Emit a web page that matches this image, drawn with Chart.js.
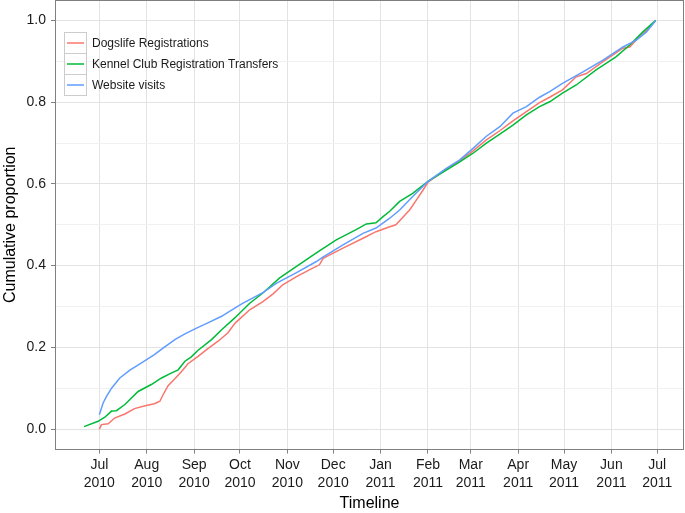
<!DOCTYPE html>
<html>
<head>
<meta charset="utf-8">
<script src="https://cdn.jsdelivr.net/npm/chart.js@4.4.1/dist/chart.umd.min.js"></script>
<style>
  html, body { margin: 0; padding: 0; background: #ffffff; }
  #wrap { width: 685px; height: 513px; position: relative; }
</style>
</head>
<body>
<div id="wrap"><canvas id="c" width="685" height="513"></canvas></div>
<script>
// x values: days since 2010-07-01
const seriesNames = ['Dogslife Registrations', 'Kennel Club Registration Transfers', 'Website visits'];
const seriesColors = ['#F8766D', '#00BA38', '#619CFF'];

const dogslifeDays = [0, 1.4, 5.8, 10, 16.7, 23, 30, 36, 39.6, 41.7, 45, 49.4, 53.8, 58, 64.6, 71, 77.7, 84, 89, 98.4, 107, 113.7, 120, 129, 137.7, 144, 146.4, 159.4, 172.5, 181, 190, 194, 201, 203, 207.5, 211.8, 215, 227, 235.8, 244.5, 253, 262, 270.6, 279.4, 288, 294.6, 303, 312, 318.6, 329.5, 342.6, 347, 351.3, 358, 364];
const dogslifeValues = [0.0, 0.011, 0.013, 0.027, 0.037, 0.05, 0.057, 0.062, 0.068, 0.084, 0.106, 0.123, 0.141, 0.16, 0.178, 0.197, 0.215, 0.235, 0.26, 0.292, 0.312, 0.331, 0.353, 0.373, 0.39, 0.402, 0.418, 0.443, 0.467, 0.483, 0.495, 0.5, 0.528, 0.536, 0.561, 0.585, 0.604, 0.636, 0.657, 0.681, 0.707, 0.73, 0.754, 0.777, 0.799, 0.812, 0.83, 0.862, 0.87, 0.899, 0.932, 0.935, 0.952, 0.976, 1.0];

const kennelDays = [-10, -0.8, 3.6, 8, 11.2, 16.7, 25.4, 34, 40.7, 47, 51.6, 56, 60, 64.6, 73.4, 80, 88.6, 98.4, 107, 118, 129, 142, 155, 168, 174.7, 181, 185.6, 190, 196.5, 205, 215, 227, 235.8, 244.5, 253, 262, 270.6, 279.4, 288, 294.6, 303, 312, 325, 338, 347, 355.6, 364];
const kennelValues = [0.006, 0.019, 0.029, 0.044, 0.045, 0.06, 0.092, 0.109, 0.125, 0.137, 0.145, 0.166, 0.176, 0.193, 0.219, 0.243, 0.272, 0.308, 0.333, 0.37, 0.398, 0.431, 0.463, 0.488, 0.502, 0.505, 0.52, 0.533, 0.557, 0.577, 0.606, 0.634, 0.654, 0.675, 0.699, 0.722, 0.744, 0.769, 0.789, 0.801, 0.822, 0.842, 0.879, 0.911, 0.94, 0.972, 1.0];

const websiteDays = [0, 2.5, 4.7, 8, 13.4, 20, 27.6, 36, 41.7, 49.4, 56, 63.6, 71, 80, 88.6, 94, 107, 116, 129, 142, 146, 159.4, 172.5, 181, 190, 196.5, 205, 215, 227, 235.8, 244.5, 253, 262, 270.6, 279.4, 288, 294.6, 303, 316.4, 329.5, 342.6, 351.3, 358, 364];
const websiteValues = [0.035, 0.064, 0.080, 0.10, 0.125, 0.144, 0.162, 0.182, 0.198, 0.219, 0.233, 0.247, 0.26, 0.276, 0.296, 0.308, 0.334, 0.357, 0.383, 0.41, 0.42, 0.451, 0.479, 0.492, 0.516, 0.536, 0.569, 0.606, 0.638, 0.659, 0.687, 0.716, 0.74, 0.773, 0.789, 0.812, 0.826, 0.846, 0.874, 0.903, 0.935, 0.952, 0.972, 1.0];

const monthTickDays = [0, 31, 62, 92, 123, 153, 184, 215, 243, 274, 304, 335, 365];
const monthTickMonths = ['Jul', 'Aug', 'Sep', 'Oct', 'Nov', 'Dec', 'Jan', 'Feb', 'Mar', 'Apr', 'May', 'Jun', 'Jul'];
const monthTickYears = ['2010', '2010', '2010', '2010', '2010', '2010', '2011', '2011', '2011', '2011', '2011', '2011', '2011'];

const yTickValues = [0, 0.1, 0.2, 0.3, 0.4, 0.5, 0.6, 0.7, 0.8, 0.9, 1.0];

const FONT = "'Liberation Sans', Arial, Helvetica, sans-serif";
const isMajorY = v => Math.round(v * 10) % 2 === 0;

function pts(xs, ys) { return xs.map((x, i) => ({ x: x, y: ys[i] })); }

const panelPlugin = {
  id: 'panel',
  afterDraw(chart) {
    const { ctx, chartArea: a } = chart;
    ctx.save();
    ctx.strokeStyle = '#7f7f7f';
    ctx.lineWidth = 1;
    ctx.strokeRect(Math.round(a.left) + 0.5, Math.round(a.top) + 0.5, Math.round(a.width) - 1, Math.round(a.height) - 1);
    // legend
    const kx = 64.5, ky = 32.5, kw = 22, kh = 21;
    ctx.font = '12px ' + FONT;
    ctx.textBaseline = 'middle';
    ctx.textAlign = 'left';
    seriesNames.forEach((name, i) => {
      const y = ky + i * kh;
      ctx.fillStyle = '#ffffff';
      ctx.fillRect(kx, y, kw, kh);
      ctx.strokeStyle = '#cccccc';
      ctx.lineWidth = 1;
      ctx.strokeRect(kx, y, kw, kh);
      ctx.strokeStyle = seriesColors[i];
      ctx.lineWidth = 1.5;
      ctx.beginPath();
      ctx.moveTo(kx + 2.5, y + kh / 2);
      ctx.lineTo(kx + kw - 2.5, y + kh / 2);
      ctx.stroke();
      ctx.fillStyle = '#1a1a1a';
      ctx.fillText(name, 92, y + kh / 2 + 0.5);
    });
    ctx.restore();
  }
};

new Chart(document.getElementById('c'), {
  type: 'line',
  data: {
    datasets: [
      { label: seriesNames[0], data: pts(dogslifeDays, dogslifeValues), borderColor: seriesColors[0], order: 2 },
      { label: seriesNames[1], data: pts(kennelDays, kennelValues), borderColor: seriesColors[1], order: 1 },
      { label: seriesNames[2], data: pts(websiteDays, websiteValues), borderColor: seriesColors[2], order: 0 }
    ]
  },
  options: {
    responsive: false,
    animation: false,
    devicePixelRatio: 1,
    parsing: true,
    elements: { point: { radius: 0 }, line: { borderWidth: 1.5, tension: 0, fill: false } },
    layout: { padding: { top: 0, right: 1, left: 0, bottom: 0 } },
    plugins: { legend: { display: false }, tooltip: { enabled: false } },
    scales: {
      x: {
        type: 'linear',
        min: -29,
        max: 382.5,
        afterBuildTicks: s => { s.ticks = monthTickDays.map(v => ({ value: v })); },
        afterFit: s => { s.height = 63.5; s.paddingLeft = 0; s.paddingRight = 0; },
        ticks: {
          autoSkip: false,
          maxRotation: 0,
          minRotation: 0,
          padding: 3,
          color: '#1a1a1a',
          font: { family: FONT, size: 14, lineHeight: 1.25 },
          callback: v => {
            const i = monthTickDays.indexOf(v);
            return i < 0 ? '' : [monthTickMonths[i], monthTickYears[i]];
          }
        },
        grid: { color: '#e3e3e3', lineWidth: 1, tickColor: '#7f7f7f', tickLength: 4, drawTicks: true },
        border: { display: false },
        title: { display: true, text: 'Timeline', color: '#000000', font: { family: FONT, size: 16 }, padding: { top: 0, bottom: 0 } }
      },
      y: {
        type: 'linear',
        min: -0.05,
        max: 1.05,
        afterBuildTicks: s => { s.ticks = yTickValues.map(v => ({ value: v })); },
        afterFit: s => { s.width = 55; s.paddingTop = 0; s.paddingBottom = 0; },
        ticks: {
          autoSkip: false,
          padding: 5,
          color: '#1a1a1a',
          font: { family: FONT, size: 14 },
          callback: v => isMajorY(v) ? v.toFixed(1) : ''
        },
        grid: {
          color: ctx => (ctx.tick && isMajorY(ctx.tick.value)) ? '#e3e3e3' : '#f1f1f1',
          tickColor: ctx => (ctx.tick && isMajorY(ctx.tick.value)) ? '#7f7f7f' : 'rgba(0,0,0,0)',
          tickLength: 4,
          drawTicks: true
        },
        border: { display: false },
        title: { display: true, text: 'Cumulative proportion', color: '#000000', font: { family: FONT, size: 16 }, padding: { top: 1, bottom: 0 } }
      }
    }
  },
  plugins: [panelPlugin]
});
</script>
</body>
</html>
